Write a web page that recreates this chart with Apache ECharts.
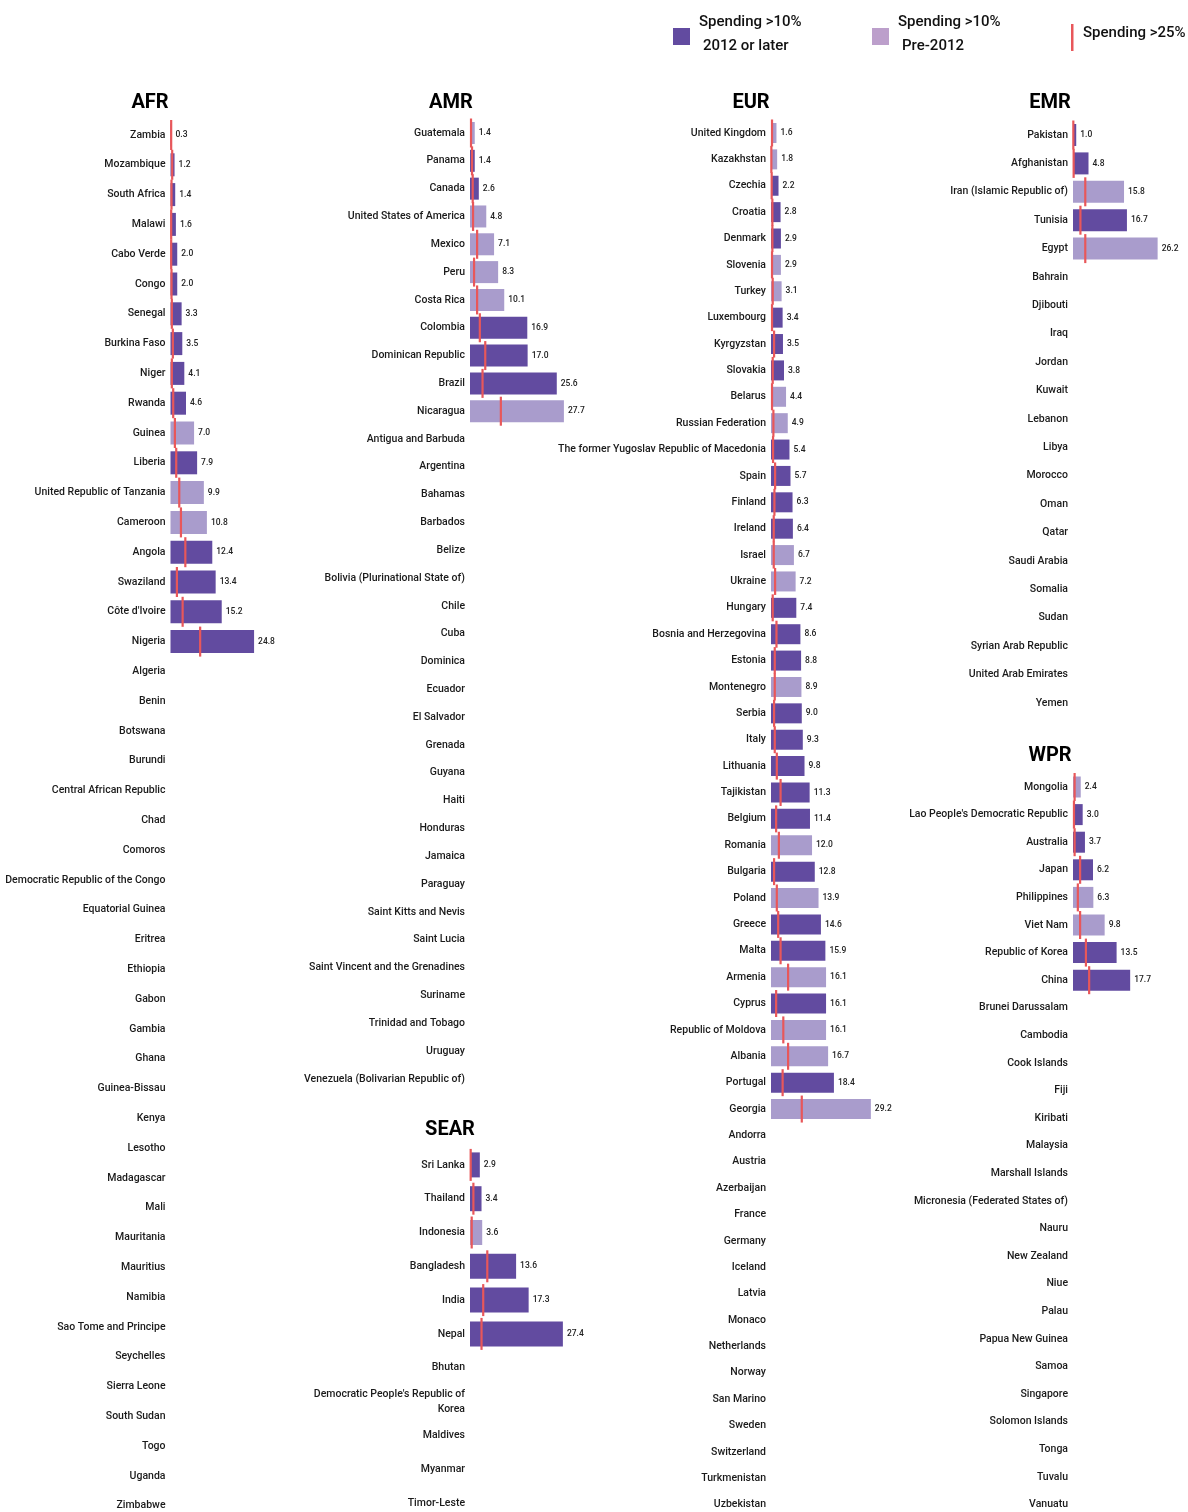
<!DOCTYPE html>
<html><head><meta charset="utf-8">
<script src="https://cdn.jsdelivr.net/npm/echarts@6/dist/echarts.min.js"></script>
<style>html,body{margin:0;padding:0;background:#fff}#c{width:1188px;height:1512px}</style>
</head><body><div id="c"></div>
<script>
// ---------- DATA ----------
const afrCountries = ["Zambia","Mozambique","South Africa","Malawi","Cabo Verde","Congo","Senegal","Burkina Faso","Niger","Rwanda","Guinea","Liberia","United Republic of Tanzania","Cameroon","Angola","Swaziland","Côte d'Ivoire","Nigeria","Algeria","Benin","Botswana","Burundi","Central African Republic","Chad","Comoros","Democratic Republic of the Congo","Equatorial Guinea","Eritrea","Ethiopia","Gabon","Gambia","Ghana","Guinea-Bissau","Kenya","Lesotho","Madagascar","Mali","Mauritania","Mauritius","Namibia","Sao Tome and Principe","Seychelles","Sierra Leone","South Sudan","Togo","Uganda","Zimbabwe"];
const afrOver10 = [0.3,1.2,1.4,1.6,2.0,2.0,3.3,3.5,4.1,4.6,7.0,7.9,9.9,10.8,12.4,13.4,15.2,24.8];
const afrRecent = [1,1,1,1,1,1,1,1,1,1,0,1,0,0,1,1,1,1];
const afrOver25 = [0.2,0.5,0.3,0.2,0.2,0.3,0.4,0.7,0.4,0.8,1.3,1.7,2.6,3.1,4.4,1.9,3.6,8.8];

const amrCountries = ["Guatemala","Panama","Canada","United States of America","Mexico","Peru","Costa Rica","Colombia","Dominican Republic","Brazil","Nicaragua","Antigua and Barbuda","Argentina","Bahamas","Barbados","Belize","Bolivia (Plurinational State of)","Chile","Cuba","Dominica","Ecuador","El Salvador","Grenada","Guyana","Haiti","Honduras","Jamaica","Paraguay","Saint Kitts and Nevis","Saint Lucia","Saint Vincent and the Grenadines","Suriname","Trinidad and Tobago","Uruguay","Venezuela (Bolivarian Republic of)"];
const amrOver10 = [1.4,1.4,2.6,4.8,7.1,8.3,10.1,16.9,17.0,25.6,27.7];
const amrRecent = [0,1,1,0,0,0,0,1,1,1,0];
const amrOver25 = [0.3,0.6,0.8,0.9,2.1,1.2,2.1,2.9,4.5,3.7,9.1];

const eurCountries = ["United Kingdom","Kazakhstan","Czechia","Croatia","Denmark","Slovenia","Turkey","Luxembourg","Kyrgyzstan","Slovakia","Belarus","Russian Federation","The former Yugoslav Republic of Macedonia","Spain","Finland","Ireland","Israel","Ukraine","Hungary","Bosnia and Herzegovina","Estonia","Montenegro","Serbia","Italy","Lithuania","Tajikistan","Belgium","Romania","Bulgaria","Poland","Greece","Malta","Armenia","Cyprus","Republic of Moldova","Albania","Portugal","Georgia","Andorra","Austria","Azerbaijan","France","Germany","Iceland","Latvia","Monaco","Netherlands","Norway","San Marino","Sweden","Switzerland","Turkmenistan","Uzbekistan"];
const eurOver10 = [1.6,1.8,2.2,2.8,2.9,2.9,3.1,3.4,3.5,3.8,4.4,4.9,5.4,5.7,6.3,6.4,6.7,7.2,7.4,8.6,8.8,8.9,9.0,9.3,9.8,11.3,11.4,12.0,12.8,13.9,14.6,15.9,16.1,16.1,16.1,16.7,18.4,29.2];
const eurRecent = [0,0,1,1,1,0,0,1,1,1,0,0,1,1,1,1,0,0,1,1,1,0,1,1,1,1,1,0,1,0,1,1,0,1,0,0,1,0];
const eurOver25 = [0.3,0.1,0.2,0.4,0.4,0.3,0.5,0.3,0.9,0.5,0.3,0.7,0.6,1.2,1.0,0.8,0.8,1.2,0.5,1.6,1.1,1.1,0.9,1.1,1.7,2.8,1.5,2.3,0.9,1.7,2.1,2.8,5.0,1.5,3.6,5.0,3.4,9.0];

const emrCountries = ["Pakistan","Afghanistan","Iran (Islamic Republic of)","Tunisia","Egypt","Bahrain","Djibouti","Iraq","Jordan","Kuwait","Lebanon","Libya","Morocco","Oman","Qatar","Saudi Arabia","Somalia","Sudan","Syrian Arab Republic","United Arab Emirates","Yemen"];
const emrOver10 = [1.0,4.8,15.8,16.7,26.2];
const emrRecent = [1,1,0,1,0];
const emrOver25 = [0.1,0.2,3.8,2.3,3.8];

const wprCountries = ["Mongolia","Lao People's Democratic Republic","Australia","Japan","Philippines","Viet Nam","Republic of Korea","China","Brunei Darussalam","Cambodia","Cook Islands","Fiji","Kiribati","Malaysia","Marshall Islands","Micronesia (Federated States of)","Nauru","New Zealand","Niue","Palau","Papua New Guinea","Samoa","Singapore","Solomon Islands","Tonga","Tuvalu","Vanuatu"];
const wprOver10 = [2.4,3.0,3.7,6.2,6.3,9.8,13.5,17.7];
const wprRecent = [0,1,1,1,0,0,1,1];
const wprOver25 = [0.5,0.3,0.5,2.2,1.5,2.2,4.0,5.0];

const searCountries = ["Sri Lanka","Thailand","Indonesia","Bangladesh","India","Nepal","Bhutan","Democratic People's Republic of\nKorea","Maldives","Myanmar","Timor-Leste"];
const searOver10 = [2.9,3.4,3.6,13.6,17.3,27.4];
const searRecent = [1,1,0,1,1,1];
const searOver25 = [0.2,1.0,0.5,5.1,3.9,3.4];

const regionNames = ["AFR","AMR","EUR","EMR","WPR","SEAR"];

// ---------- STYLE / LAYOUT ----------
const DARK = '#624ba0', LIGHT = '#a99ccc', LEG_LIGHT = '#bc9fcb', RED = '#e8575a';
const FONT = 'Roboto,"Liberation Sans",sans-serif';
const panels = [
  {name:regionNames[0], cats:afrCountries, v:afrOver10, r:afrRecent, w:afrOver25, left:170.5, top:120.1, height:47*29.8, width:101.1, bar:23, tx:150, ty:103},
  {name:regionNames[1], cats:amrCountries, v:amrOver10, r:amrRecent, w:amrOver25, left:470, top:119.1, height:35*27.82, width:101.7, bar:22, tx:451, ty:103},
  {name:regionNames[2], cats:eurCountries, v:eurOver10, r:eurRecent, w:eurOver25, left:771, top:119.8, height:53*26.38, width:102.6, bar:20, tx:751, ty:103},
  {name:regionNames[3], cats:emrCountries, v:emrOver10, r:emrRecent, w:emrOver25, left:1073, top:120.8, height:21*28.4, width:96.9, bar:22, tx:1050, ty:103},
  {name:regionNames[4], cats:wprCountries, v:wprOver10, r:wprRecent, w:wprOver25, left:1073, top:773.2, height:27*27.6, width:96.9, bar:21, tx:1050, ty:756},
  {name:regionNames[5], cats:searCountries, v:searOver10, r:searRecent, w:searOver25, left:470, top:1148, height:11*33.8, width:101.7, bar:25, tx:450, ty:1130}
];

const grid = [], xAxis = [], yAxis = [], series = [], graphic = [];
panels.forEach((p, i) => {
  grid.push({left:p.left, top:p.top, width:p.width, height:p.height, containLabel:false, outerBoundsMode:'none'});
  xAxis.push({gridIndex:i, type:'value', min:0, max:30, show:false});
  yAxis.push({gridIndex:i, type:'category', inverse:true, data:p.cats,
    axisLine:{show:false}, axisTick:{show:false}, splitLine:{show:false},
    axisLabel:{fontFamily:FONT, fontSize:10.5, fontWeight:500, color:'#1a1a1a', margin:5, align:'right', lineHeight:15, interval:0}});
  series.push({type:'bar', xAxisIndex:i, yAxisIndex:i, barWidth:p.bar, silent:true,
    data:p.cats.map((c, k) => k < p.v.length ? {value:p.v[k], itemStyle:{color:p.r[k] ? DARK : LIGHT}} : null),
    label:{show:true, position:'right', distance:4, fontFamily:FONT, fontSize:8.5, fontWeight:500, color:'#222',
      formatter: d => d.value == null ? '' : Number(d.value).toFixed(1)}});
  series.push({type:'scatter', xAxisIndex:i, yAxisIndex:i, silent:true, symbol:'rect',
    symbolSize:[2.2, p.bar + 7], itemStyle:{color:RED, opacity:1}, z:5,
    data:p.w.map((x, k) => [x, k])});
  graphic.push({type:'text', x:p.tx, y:p.ty, style:{text:p.name, font:'bold 20px ' + FONT, fill:'#000', textAlign:'center', textVerticalAlign:'middle'}});
});

// legend
const LF = '500 15px ' + FONT;
graphic.push(
  {type:'rect', shape:{x:673, y:28, width:17, height:17}, style:{fill:DARK}},
  {type:'text', x:699, y:22, style:{text:'Spending >10%', font:LF, fill:'#111', textVerticalAlign:'middle'}},
  {type:'text', x:703, y:46, style:{text:'2012 or later', font:LF, fill:'#111', textVerticalAlign:'middle'}},
  {type:'rect', shape:{x:872, y:28, width:17, height:17}, style:{fill:LEG_LIGHT}},
  {type:'text', x:898, y:22, style:{text:'Spending >10%', font:LF, fill:'#111', textVerticalAlign:'middle'}},
  {type:'text', x:902, y:46, style:{text:'Pre-2012', font:LF, fill:'#111', textVerticalAlign:'middle'}},
  {type:'rect', shape:{x:1071, y:24, width:2.5, height:27}, style:{fill:RED}},
  {type:'text', x:1083, y:33, style:{text:'Spending >25%', font:LF, fill:'#111', textVerticalAlign:'middle'}}
);

const chart = echarts.init(document.getElementById('c'), null, {renderer:'canvas'});
chart.setOption({animation:false, backgroundColor:'#fff', grid, xAxis, yAxis, series, graphic});
</script></body></html>
